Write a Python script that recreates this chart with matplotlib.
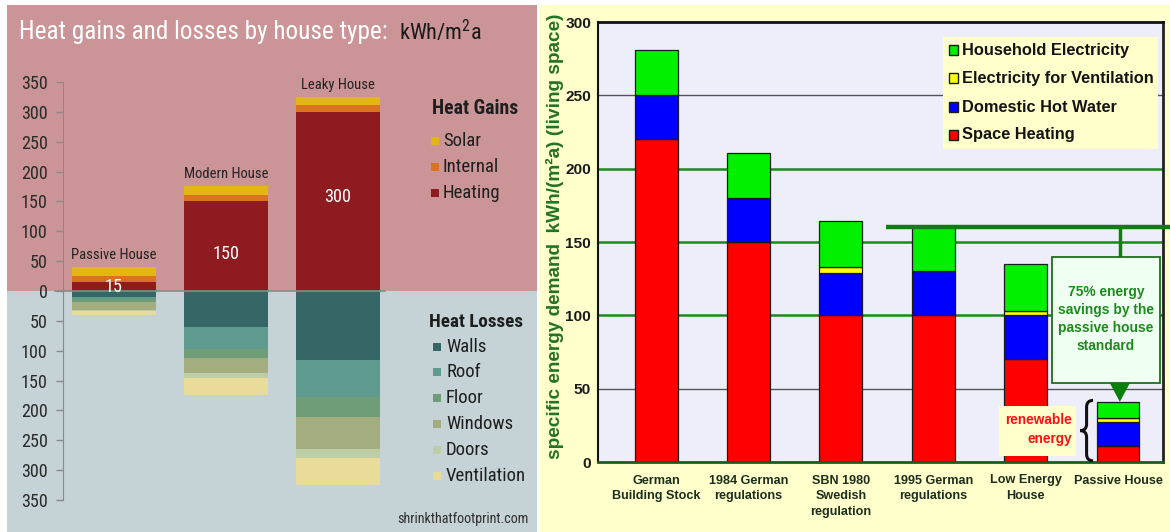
import matplotlib
matplotlib.use('Agg')
import matplotlib.pyplot as plt
from matplotlib import font_manager as fm
from matplotlib.patches import Rectangle, Polygon, PathPatch
from matplotlib.path import Path
import numpy as np

# ---------------- data (left chart) ----------------
houses = ['Passive House', 'Modern House', 'Leaky House']
heating = [15, 150, 300]
internal = [10, 10, 12]
solar = [15, 15, 13]
walls = [10, 60, 115]
roof = [4, 37, 63]
floor_ = [4, 15, 33]
windows = [14, 25, 53]
doors = [2, 8, 15]
ventilation = [6, 30, 46]
left_ticks = [-350, -300, -250, -200, -150, -100, -50, 0, 50, 100, 150, 200, 250, 300, 350]

# ---------------- data (right chart) ----------------
standards = ['German\nBuilding Stock', '1984 German\nregulations', 'SBN 1980\nSwedish\nregulation',
             '1995 German\nregulations', 'Low Energy\nHouse', 'Passive House']
space_heating = [220, 150, 100, 100, 70, 11]
hot_water = [30, 30, 29, 30, 30, 16]
vent_elec = [0, 0, 4, 0, 3, 3]
household_elec = [31, 31, 31, 30, 32, 11]
right_ticks = [0, 50, 100, 150, 200, 250, 300]

W, H = 1170, 532
fig = plt.figure(figsize=(W / 100, H / 100), dpi=100)
fig.patch.set_facecolor('white')
plt.rcParams['mathtext.default'] = 'regular'

names = {f.name for f in fm.fontManager.ttflist}
NARROW = 'DejaVu Sans'
for cand in ['Liberation Sans Narrow', 'Roboto Condensed', 'Open Sans Condensed', 'Lato', 'Roboto']:
    if cand in names:
        NARROW = cand
        break
ARIAL = 'Liberation Sans' if 'Liberation Sans' in names else 'DejaVu Sans'

renderer = fig.canvas.get_renderer()
K = 1.07  # slight enlargement to approach the taller condensed original font


def fs_for(s, family, weight, target_w, k=1.0):
    t = fig.text(0, 0, s, family=family, weight=weight, fontsize=10)
    w = t.get_window_extent(renderer).width
    t.remove()
    return 10 * target_w / w * k


def fx(x):
    return x / W


def fy(y):
    return 1 - y / H


def rect(x0, y0, x1, y1):
    return [fx(x0), fy(y1), (x1 - x0) / W, (y1 - y0) / H]


# ---------------- panel backgrounds ----------------
PINK = '#cb9598'
BLUEGREY = '#c5d3d6'
fig.add_artist(Rectangle((fx(7), fy(291)), (537 - 7) / W, (291 - 5) / H, transform=fig.transFigure,
                         facecolor=PINK, edgecolor='none', zorder=-5))
fig.add_artist(Rectangle((fx(7), fy(532)), (537 - 7) / W, (532 - 291) / H, transform=fig.transFigure,
                         facecolor=BLUEGREY, edgecolor='none', zorder=-5))
fig.add_artist(Rectangle((fx(540), fy(532)), (1170 - 540) / W, (532 - 5) / H, transform=fig.transFigure,
                         facecolor='#ffffcc', edgecolor='none', zorder=-5))

# ---------------- left chart ----------------
ax1 = fig.add_axes(rect(63, 5, 537, 532))
ax1.set_facecolor('none')
x1 = np.arange(len(houses))
ax1.set_xlim(-0.455, 3.777)
ax1.set_ylim(-403.7, 479)
bw1 = 0.75

gain_cols = {'Heating': '#8e1b20', 'Internal': '#da7320', 'Solar': '#e2b614'}
loss_cols = {'Walls': '#376666', 'Roof': '#5f9a90', 'Floor': '#6e9d78', 'Windows': '#a3ad80',
             'Doors': '#bdcea7', 'Ventilation': '#e9dc9b'}

bottom = np.zeros(3)
for name, vals in [('Heating', heating), ('Internal', internal), ('Solar', solar)]:
    ax1.bar(x1, vals, bw1, bottom=bottom, color=gain_cols[name], zorder=2)
    bottom += np.array(vals)
gain_tot = bottom.copy()
bottom = np.zeros(3)
for name, vals in [('Walls', walls), ('Roof', roof), ('Floor', floor_), ('Windows', windows),
                   ('Doors', doors), ('Ventilation', ventilation)]:
    ax1.bar(x1, -np.array(vals), bw1, bottom=bottom, color=loss_cols[name], zorder=2)
    bottom -= np.array(vals)

for s in ['top', 'right', 'bottom']:
    ax1.spines[s].set_visible(False)
ax1.spines['left'].set_color('#8a8a8a')
ax1.spines['left'].set_bounds(-350, 350)
ax1.set_xticks([])
ax1.set_yticks(left_ticks)
tick_fs = fs_for('350', NARROW, 'normal', 25, K)
ax1.set_yticklabels([str(abs(v)) for v in left_ticks], family=NARROW, fontsize=tick_fs, color='#2a2a2a')
ax1.tick_params(axis='y', length=5, width=1, color='#8a8a8a', pad=6)
ax1.plot([x1[0] - 0.53, x1[-1] + 0.42], [0, 0], color='#8a8a8a', lw=1.2, clip_on=False, zorder=3)

lab_fs = fs_for('Passive House', NARROW, 'normal', 79, K)
for xi, tot, name in zip(x1, gain_tot, houses):
    ax1.text(xi, tot + 9, name, ha='center', va='bottom', family=NARROW, fontsize=lab_fs, color='#222222')

val_fs = fs_for('150', NARROW, 'normal', 25, K)
val_y = [7, 62, 157]
for xi, v, yy in zip(x1, heating, val_y):
    ax1.text(xi, yy, str(v), ha='center', va='center', family=NARROW, fontsize=val_fs, color='white', zorder=4)

# title
title_txt = 'Heat gains and losses by house type:'
t_title = fig.text(fx(19), fy(32), title_txt, ha='left', va='center', family=NARROW, color='white',
                   fontsize=fs_for(title_txt, NARROW, 'normal', 367))
title_end = t_title.get_window_extent(renderer).x1
fig.text((title_end + 11) / W, fy(32), 'kWh/m$^{2}$a', ha='left', va='center', family=NARROW,
         color='#1a1a1a', fontsize=fs_for('kWh/m$^{2}$a', NARROW, 'normal', 84))

# left legends
leg_fs = fs_for('Ventilation', NARROW, 'normal', 74, K)
fig.text(fx(432), fy(109), 'Heat Gains', ha='left', va='center', family=NARROW, weight='bold',
         color='#1e1e1e', fontsize=fs_for('Heat Gains', NARROW, 'bold', 80, K))
for name, yy in [('Solar', 141), ('Internal', 167), ('Heating', 193)]:
    fig.add_artist(Rectangle((fx(431), fy(yy + 4)), 8 / W, 8 / H, transform=fig.transFigure,
                             facecolor=gain_cols[name], edgecolor='none'))
    fig.text(fx(443), fy(yy), name, ha='left', va='center', family=NARROW, fontsize=leg_fs, color='#1e1e1e')
fig.text(fx(429), fy(322), 'Heat Losses', ha='left', va='center', family=NARROW, weight='bold',
         color='#1e1e1e', fontsize=fs_for('Heat Losses', NARROW, 'bold', 88, K))
for name, yy in [('Walls', 347), ('Roof', 372), ('Floor', 398), ('Windows', 424), ('Doors', 450),
                 ('Ventilation', 476)]:
    fig.add_artist(Rectangle((fx(433), fy(yy + 4)), 8 / W, 8 / H, transform=fig.transFigure,
                             facecolor=loss_cols[name], edgecolor='none'))
    fig.text(fx(446), fy(yy), name, ha='left', va='center', family=NARROW, fontsize=leg_fs, color='#1e1e1e')
fig.text(fx(397), fy(519), 'shrinkthatfootprint.com', ha='left', va='center', family=NARROW, color='#2e2e2e',
         fontsize=fs_for('shrinkthatfootprint.com', NARROW, 'normal', 132))

# ---------------- right chart ----------------
ax2 = fig.add_axes(rect(598, 22, 1163, 462))
ax2.set_facecolor('#eeeefb')
x2 = np.arange(len(standards))
ax2.set_xlim(-0.628, 5.487)
ax2.set_ylim(0, 300)
bw2 = 0.465

for v in [50, 250]:
    ax2.axhline(v, color='#555555', lw=1, zorder=1)
for v in [100, 150, 200]:
    ax2.axhline(v, color='#1a8a1a', lw=1.8, zorder=1)

r_cols = {'Space Heating': '#ff0000', 'Domestic Hot Water': '#0000ff',
          'Electricity for Ventilation': '#ffff00', 'Household Electricity': '#00f000'}
bottom = np.zeros(len(standards))
for name, vals in [('Space Heating', space_heating), ('Domestic Hot Water', hot_water),
                   ('Electricity for Ventilation', vent_elec), ('Household Electricity', household_elec)]:
    ax2.bar(x2, vals, bw2, bottom=bottom, color=r_cols[name], edgecolor='#1a1a1a', lw=0.9, zorder=2)
    bottom += np.array(vals)
totals = bottom.copy()

ax2.spines['top'].set_color('#111111')
ax2.spines['top'].set_linewidth(2)
ax2.spines['left'].set_color('#111111')
ax2.spines['left'].set_linewidth(1.5)
ax2.spines['right'].set_color('#222222')
ax2.spines['right'].set_linewidth(2)
ax2.spines['bottom'].set_color('#1f5a1f')
ax2.spines['bottom'].set_linewidth(2)
ax2.set_yticks(right_ticks)
rt_fs = fs_for('300', ARIAL, 'bold', 25, 1.03)
ax2.set_yticklabels([str(v) for v in right_ticks], family=ARIAL, weight='bold', fontsize=rt_fs,
                    color='#1a1a1a')
ax2.tick_params(axis='y', length=0, pad=5)
ax2.set_xticks(x2)
cat_fs = fs_for('Building Stock', ARIAL, 'bold', 85, 1.04)
ax2.set_xticklabels(standards, family=ARIAL, weight='bold', fontsize=cat_fs, color='#1c2e1c',
                    linespacing=1.4)
ax2.tick_params(axis='x', length=0, pad=9)

ylab = 'specific energy demand  kWh/(m\u00b2a) (living space)'
fig.text(fx(555), fy(236), ylab, rotation=90, ha='center', va='center', family=ARIAL, weight='bold',
         color='#237223', fontsize=fs_for(ylab, ARIAL, 'bold', 448))

# legend (manual)
fig.add_artist(Rectangle((fx(943), fy(149)), (1158 - 943) / W, (149 - 37) / H, transform=fig.transFigure,
                         facecolor='#ffffcc', edgecolor='none', zorder=5))
rl_fs = fs_for('Electricity for Ventilation', ARIAL, 'bold', 188, 1.02)
for name, yy in [('Household Electricity', 50), ('Electricity for Ventilation', 78),
                 ('Domestic Hot Water', 107), ('Space Heating', 135)]:
    fig.add_artist(Rectangle((fx(949), fy(yy + 5)), 9 / W, 10 / H, transform=fig.transFigure,
                             facecolor=r_cols[name], edgecolor='#1a1a1a', lw=1, zorder=6))
    fig.text(fx(962), fy(yy), name, ha='left', va='center', family=ARIAL, weight='bold', fontsize=rl_fs,
             color='#141414', zorder=6)

# reference line at the 1995 level and 75% savings annotation
ref = totals[3]
GREEN = '#0f7d0f'
ax2.plot([2.49, 5.56], [ref, ref], color=GREEN, lw=3.2, clip_on=False, zorder=4, solid_capstyle='butt')
ax2.plot([5.02, 5.02], [ref, 140], color=GREEN, lw=2.5, zorder=4)
ax2.add_patch(Rectangle((4.286, 54), 1.169, 86, facecolor='#effff2', edgecolor='#1d6e1d', lw=1.3, zorder=5))
box_fs = fs_for('savings by the', ARIAL, 'bold', 93, 1.03)
ax2.text(4.87, 97.5, '75% energy\nsavings by the\npassive house\nstandard', ha='center', va='center',
         family=ARIAL, weight='bold', fontsize=box_fs, color='#1e8a1e', linespacing=1.35, zorder=6)
ax2.add_patch(Polygon([[4.91, 54], [5.13, 54], [5.02, totals[5]]], closed=True, facecolor='#0a800a',
                      edgecolor='none', zorder=6))

# renewable energy box and brace
ax2.add_patch(Rectangle((3.71, 4), 0.835, 34, facecolor='#ffffcc', edgecolor='none', zorder=5))
ren_fs = fs_for('renewable', ARIAL, 'bold', 65, 1.03)
ax2.text(4.50, 22, 'renewable\nenergy', ha='right', va='center', multialignment='right', family=ARIAL,
         weight='bold', fontsize=ren_fs, color='#ff1010', linespacing=1.45, zorder=6)

xt, xe = 4.59, 4.73
xm = (xt + xe) / 2
y0, y1 = 0.8, totals[5] + 1
ym = (y0 + y1) / 2
d = 4.5
verts = [(xe, y1), (xm, y1), (xm, y1 - d), (xm, ym + d), (xm, ym), (xt, ym), (xm, ym), (xm, ym - d),
         (xm, y0 + d), (xm, y0), (xe, y0)]
codes = [Path.MOVETO, Path.CURVE3, Path.CURVE3, Path.LINETO, Path.CURVE3, Path.CURVE3, Path.CURVE3,
         Path.CURVE3, Path.LINETO, Path.CURVE3, Path.CURVE3]
ax2.add_patch(PathPatch(Path(verts, codes), facecolor='none', edgecolor='#111111', lw=2.2, zorder=6))

fig.savefig('out.png', dpi=100, facecolor=fig.get_facecolor())
